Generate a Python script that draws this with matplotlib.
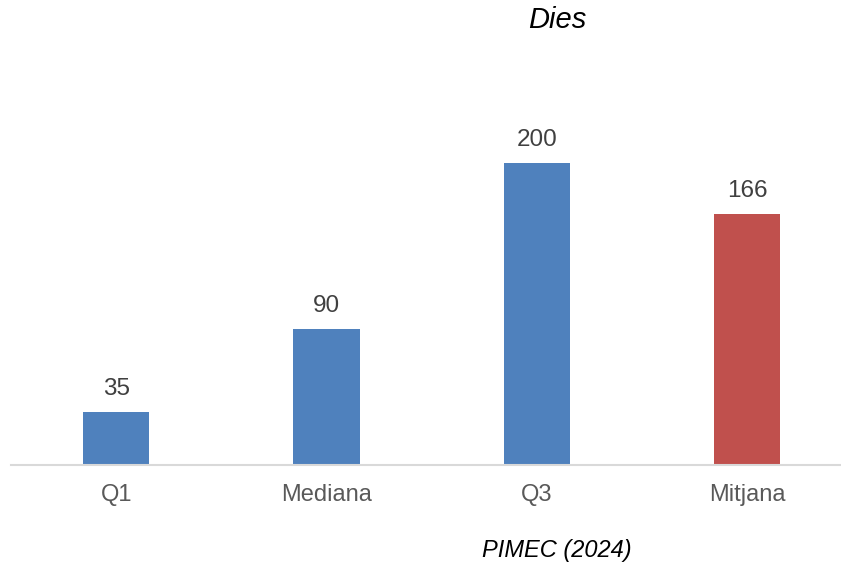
import matplotlib
matplotlib.use("Agg")
import matplotlib.pyplot as plt

categories = ["Q1", "Mediana", "Q3", "Mitjana"]
values = [35, 90, 200, 166]
bar_colors = ["#4F81BD", "#4F81BD", "#4F81BD", "#C0504D"]
title = "Dies"
source = "PIMEC (2024)"

plt.rcParams["font.family"] = ["Liberation Sans", "DejaVu Sans"]

W, H = 841, 565
fig = plt.figure(figsize=(W / 100, H / 100), dpi=100)
ax = fig.add_axes([11 / W, 1 - 465 / H, 1 - 11 / W, (465 - 88) / H])

x = list(range(len(categories)))
ax.bar(x, values, width=0.315, color=bar_colors, zorder=2)
ax.set_xlim(-0.5, 3.447)
ax.set_ylim(0, 377 / 1.51)

for xi, v in zip(x, values):
    ax.annotate(str(v), (xi, v), xytext=(0, 9), textcoords="offset points",
                ha="center", va="bottom", fontsize=17.5, color="#404040")

ax.set_xticks(x)
ax.set_xticklabels(categories, fontsize=17, color="#595959")
ax.tick_params(axis="x", length=0, pad=14)
ax.set_yticks([])
for side in ["top", "right", "left"]:
    ax.spines[side].set_visible(False)
ax.spines["bottom"].set_color("#D9D9D9")
ax.spines["bottom"].set_linewidth(1.5)

fig.text(557 / W, 1 - 20 / H, title, ha="center", va="center",
         fontsize=21, style="italic", color="black")
fig.text(557 / W, 1 - 551 / H, source, ha="center", va="center",
         fontsize=17, style="italic", color="black")

fig.savefig("out.png", dpi=100)
